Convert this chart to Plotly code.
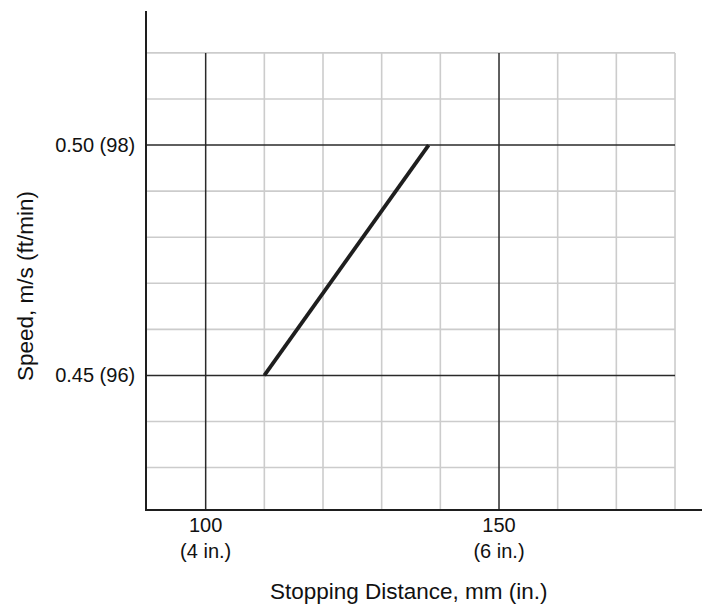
import plotly.graph_objects as go

# Data
line_x = [110, 138]
line_y = [0.45, 0.50]

x_major = [100, 150]
x_major_text = ["100<br>(4 in.)", "150<br>(6 in.)"]
y_major = [0.45, 0.50]
y_major_text = ["0.45 (96)", "0.50 (98)"]

x_minor = [110, 120, 130, 140, 160, 170, 180]
y_minor = [0.43, 0.44, 0.46, 0.47, 0.48, 0.49, 0.51, 0.52]

x_title = "Stopping Distance, mm (in.)"
y_title = "Speed, m/s (ft/min)"

x_range = [90, 184.6]
y_range = [0.421, 0.5291]
grid_x_end = 180
grid_y_end = 0.52

FONT = "Liberation Sans, Arial, Helvetica, sans-serif"

shapes = []
for xv in x_minor:
    shapes.append(dict(type="line", xref="x", yref="y", x0=xv, x1=xv,
                       y0=y_range[0], y1=grid_y_end, layer="below",
                       line=dict(color="#cccccc", width=1.6)))
for yv in y_minor:
    shapes.append(dict(type="line", xref="x", yref="y", x0=x_range[0], x1=grid_x_end,
                       y0=yv, y1=yv, layer="below",
                       line=dict(color="#cccccc", width=1.6)))
for xv in x_major:
    shapes.append(dict(type="line", xref="x", yref="y", x0=xv, x1=xv,
                       y0=y_range[0], y1=grid_y_end, layer="below",
                       line=dict(color="#2a2a2a", width=1.5)))
for yv in y_major:
    shapes.append(dict(type="line", xref="x", yref="y", x0=x_range[0], x1=grid_x_end,
                       y0=yv, y1=yv, layer="below",
                       line=dict(color="#2a2a2a", width=1.5)))

fig = go.Figure()
fig.add_trace(go.Scatter(x=line_x, y=line_y, mode="lines",
                         line=dict(color="#1e1e1e", width=3.8),
                         showlegend=False, hoverinfo="skip"))

fig.update_layout(
    width=702, height=605,
    margin=dict(l=147, r=0, t=11, b=96),
    paper_bgcolor="white", plot_bgcolor="white",
    font=dict(family=FONT, size=20, color="#111111"),
    shapes=shapes,
    showlegend=False,
    xaxis=dict(
        range=x_range, showgrid=False, zeroline=False,
        showline=True, linecolor="#1e1e1e", linewidth=1.6,
        tickvals=x_major, ticktext=x_major_text,
        ticks="", tickfont=dict(size=20), ticklabelstandoff=-3,
    ),
    yaxis=dict(
        range=y_range, showgrid=False, zeroline=False,
        showline=True, linecolor="#1e1e1e", linewidth=1.6,
        tickvals=y_major, ticktext=y_major_text,
        ticks="outside", ticklen=6, tickcolor="rgba(0,0,0,0)",
        tickfont=dict(size=20),
    ),
    annotations=[
        dict(text=x_title, xref="paper", yref="paper",
             x=(409 - 147) / 555, y=(509 - 591) / 498,
             xanchor="center", yanchor="middle", showarrow=False,
             font=dict(size=22.5)),
        dict(text=y_title, xref="paper", yref="paper",
             x=(25 - 147) / 555, y=(509 - 286) / 498, textangle=-90,
             xanchor="center", yanchor="middle", showarrow=False,
             font=dict(size=22.5)),
    ],
)

fig.write_html("out.html", config={"displayModeBar": False},
               post_script="document.body.style.margin='0';document.body.style.overflow='hidden';")
